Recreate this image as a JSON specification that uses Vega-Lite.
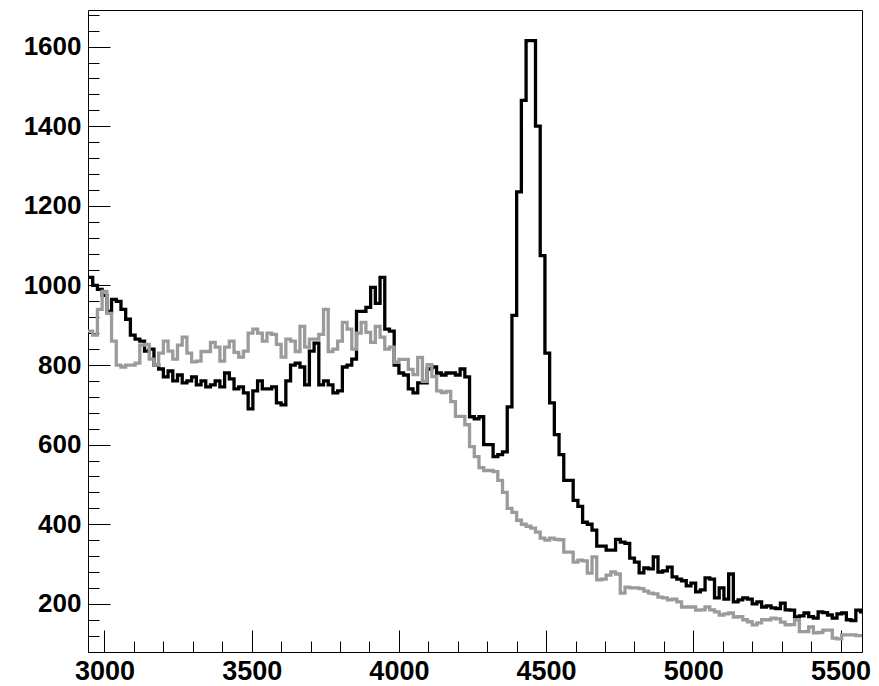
{
  "$schema": "https://vega.github.io/schema/vega-lite/v6.json",
  "width": 774,
  "height": 642,
  "autosize": "none",
  "padding": {"left": 88, "top": 10, "right": 17, "bottom": 34},
  "background": "white",
  "config": {
    "view": {"stroke": "black", "strokeWidth": 1},
    "axis": {"grid": false, "domain": false, "title": null, "tickColor": "black", "tickWidth": 1, "labelColor": "black", "labelFontWeight": "bold", "labelOverlap": false, "labelFlush": false, "labelFont": "Liberation Sans"}
  },
  "data": {"values": [
    {"x":2944,"b":1020,"g":885},{"x":2960,"b":1000,"g":875},{"x":2976,"b":990,"g":940},{"x":2992,"b":975,"g":985},
    {"x":3008,"b":935,"g":930},{"x":3024,"b":965,"g":860},{"x":3040,"b":960,"g":800},{"x":3056,"b":940,"g":795},
    {"x":3072,"b":915,"g":800},{"x":3088,"b":875,"g":800},{"x":3104,"b":865,"g":805},{"x":3120,"b":860,"g":850},
    {"x":3136,"b":835,"g":852},{"x":3152,"b":840,"g":815},{"x":3168,"b":800,"g":800},{"x":3184,"b":790,"g":830},
    {"x":3200,"b":770,"g":860},{"x":3216,"b":785,"g":835},{"x":3232,"b":760,"g":815},{"x":3248,"b":775,"g":850},
    {"x":3264,"b":755,"g":870},{"x":3280,"b":760,"g":830},{"x":3296,"b":770,"g":808},{"x":3312,"b":750,"g":810},
    {"x":3328,"b":760,"g":834},{"x":3344,"b":745,"g":834},{"x":3360,"b":750,"g":857},{"x":3376,"b":760,"g":845},
    {"x":3392,"b":745,"g":810},{"x":3408,"b":780,"g":845},{"x":3424,"b":765,"g":860},{"x":3440,"b":740,"g":832},
    {"x":3456,"b":745,"g":820},{"x":3472,"b":730,"g":835},{"x":3488,"b":690,"g":880},{"x":3504,"b":735,"g":890},
    {"x":3520,"b":760,"g":880},{"x":3536,"b":740,"g":860},{"x":3552,"b":740,"g":880},{"x":3568,"b":745,"g":877},
    {"x":3584,"b":705,"g":852},{"x":3600,"b":700,"g":820},{"x":3616,"b":760,"g":865},{"x":3632,"b":800,"g":860},
    {"x":3648,"b":805,"g":834},{"x":3664,"b":795,"g":897},{"x":3680,"b":750,"g":845},{"x":3696,"b":835,"g":865},
    {"x":3712,"b":855,"g":865},{"x":3728,"b":750,"g":877},{"x":3744,"b":760,"g":940},{"x":3760,"b":750,"g":834},
    {"x":3776,"b":730,"g":840},{"x":3792,"b":735,"g":860},{"x":3808,"b":795,"g":907},{"x":3824,"b":800,"g":890},
    {"x":3840,"b":815,"g":840},{"x":3856,"b":935,"g":880},{"x":3872,"b":935,"g":907},{"x":3888,"b":945,"g":882},
    {"x":3904,"b":995,"g":857},{"x":3920,"b":955,"g":897},{"x":3936,"b":1020,"g":870},{"x":3952,"b":890,"g":840},
    {"x":3968,"b":885,"g":845},{"x":3984,"b":800,"g":807},{"x":4000,"b":780,"g":814},{"x":4016,"b":775,"g":814},
    {"x":4032,"b":740,"g":789},{"x":4048,"b":730,"g":776},{"x":4064,"b":755,"g":819},{"x":4080,"b":755,"g":759},
    {"x":4096,"b":790,"g":801},{"x":4112,"b":795,"g":771},{"x":4128,"b":780,"g":735},{"x":4144,"b":775,"g":731},
    {"x":4160,"b":780,"g":734},{"x":4176,"b":780,"g":708},{"x":4192,"b":775,"g":671},{"x":4208,"b":790,"g":671},
    {"x":4224,"b":770,"g":650},{"x":4240,"b":670,"g":595},{"x":4256,"b":665,"g":570},{"x":4272,"b":670,"g":542},
    {"x":4288,"b":600,"g":535},{"x":4304,"b":600,"g":535},{"x":4320,"b":570,"g":532},{"x":4336,"b":575,"g":510},
    {"x":4352,"b":582,"g":480},{"x":4368,"b":695,"g":440},{"x":4384,"b":925,"g":430},{"x":4400,"b":1235,"g":410},
    {"x":4416,"b":1465,"g":400},{"x":4432,"b":1615,"g":395},{"x":4448,"b":1615,"g":390},{"x":4464,"b":1400,"g":380},
    {"x":4480,"b":1075,"g":365},{"x":4496,"b":830,"g":360},{"x":4512,"b":705,"g":365},{"x":4528,"b":625,"g":362},
    {"x":4544,"b":575,"g":361},{"x":4560,"b":510,"g":330},{"x":4576,"b":510,"g":330},{"x":4592,"b":460,"g":305},
    {"x":4608,"b":445,"g":310},{"x":4624,"b":405,"g":308},{"x":4640,"b":400,"g":277},{"x":4656,"b":385,"g":318},
    {"x":4672,"b":345,"g":260},{"x":4688,"b":345,"g":262},{"x":4704,"b":335,"g":272},{"x":4720,"b":335,"g":280},
    {"x":4736,"b":362,"g":275},{"x":4752,"b":355,"g":227},{"x":4768,"b":352,"g":242},{"x":4784,"b":315,"g":240},
    {"x":4800,"b":305,"g":240},{"x":4816,"b":278,"g":238},{"x":4832,"b":290,"g":232},{"x":4848,"b":288,"g":227},
    {"x":4864,"b":318,"g":225},{"x":4880,"b":280,"g":217},{"x":4896,"b":283,"g":215},{"x":4912,"b":292,"g":210},
    {"x":4928,"b":268,"g":212},{"x":4944,"b":262,"g":205},{"x":4960,"b":258,"g":192},{"x":4976,"b":245,"g":192},
    {"x":4992,"b":252,"g":192},{"x":5008,"b":230,"g":184},{"x":5024,"b":235,"g":185},{"x":5040,"b":265,"g":192},
    {"x":5056,"b":262,"g":185},{"x":5072,"b":215,"g":180},{"x":5088,"b":240,"g":172},{"x":5104,"b":212,"g":175},
    {"x":5120,"b":275,"g":177},{"x":5136,"b":205,"g":167},{"x":5152,"b":210,"g":168},{"x":5168,"b":215,"g":160},
    {"x":5184,"b":212,"g":155},{"x":5200,"b":200,"g":147},{"x":5216,"b":205,"g":152},{"x":5232,"b":192,"g":160},
    {"x":5248,"b":195,"g":160},{"x":5264,"b":190,"g":164},{"x":5280,"b":188,"g":162},{"x":5296,"b":202,"g":154},
    {"x":5312,"b":185,"g":147},{"x":5328,"b":184,"g":148},{"x":5344,"b":167,"g":160},{"x":5360,"b":170,"g":130},
    {"x":5376,"b":177,"g":130},{"x":5392,"b":168,"g":142},{"x":5408,"b":164,"g":127},{"x":5424,"b":180,"g":128},
    {"x":5440,"b":178,"g":134},{"x":5456,"b":172,"g":134},{"x":5472,"b":164,"g":114},{"x":5488,"b":175,"g":112},
    {"x":5504,"b":177,"g":122},{"x":5520,"b":160,"g":122},{"x":5536,"b":158,"g":122},{"x":5552,"b":184,"g":120},
    {"x":5568,"b":180,"g":120},{"x":5584,"b":180,"g":120}
  ]},
  "encoding": {
    "x": {"field": "x", "type": "quantitative",
      "scale": {"domain": [2944, 5573], "nice": false, "zero": false},
      "axis": {
        "values": [3000,3100,3200,3300,3400,3500,3600,3700,3800,3900,4000,4100,4200,4300,4400,4500,4600,4700,4800,4900,5000,5100,5200,5300,5400,5500],
        "format": "d",
        "labelExpr": "datum.value % 500 === 0 ? datum.label : ''",
        "tickSize": {"condition": {"test": "datum.value % 500 === 0", "value": -22}, "value": -11},
        "labelPadding": 28,
        "labelFontSize": 27
      }
    }
  },
  "layer": [
    {
      "mark": {"type": "line", "interpolate": "step-after", "color": "black", "strokeWidth": 3.3, "clip": true, "strokeJoin": "miter"},
      "encoding": {
        "y": {"field": "b", "type": "quantitative",
          "scale": {"domain": [79, 1692], "nice": false, "zero": false},
          "axis": {
            "values": [80,120,160,200,240,280,320,360,400,440,480,520,560,600,640,680,720,760,800,840,880,920,960,1000,1040,1080,1120,1160,1200,1240,1280,1320,1360,1400,1440,1480,1520,1560,1600,1640,1680],
            "format": "d",
            "labelExpr": "datum.value % 200 === 0 ? datum.label : ''",
            "tickSize": {"condition": {"test": "datum.value % 200 === 0", "value": -22}, "value": -11},
            "labelPadding": 29,
            "labelFontSize": 26
          }
        }
      }
    },
    {
      "mark": {"type": "line", "interpolate": "step-after", "color": "#9b9b9b", "strokeWidth": 3.3, "clip": true, "strokeJoin": "miter"},
      "encoding": {
        "y": {"field": "g", "type": "quantitative",
          "scale": {"domain": [79, 1692], "nice": false, "zero": false},
          "axis": {
            "values": [80,120,160,200,240,280,320,360,400,440,480,520,560,600,640,680,720,760,800,840,880,920,960,1000,1040,1080,1120,1160,1200,1240,1280,1320,1360,1400,1440,1480,1520,1560,1600,1640,1680],
            "format": "d",
            "labelExpr": "datum.value % 200 === 0 ? datum.label : ''",
            "tickSize": {"condition": {"test": "datum.value % 200 === 0", "value": -22}, "value": -11},
            "labelPadding": 29,
            "labelFontSize": 26
          }
        }
      }
    }
  ]
}
